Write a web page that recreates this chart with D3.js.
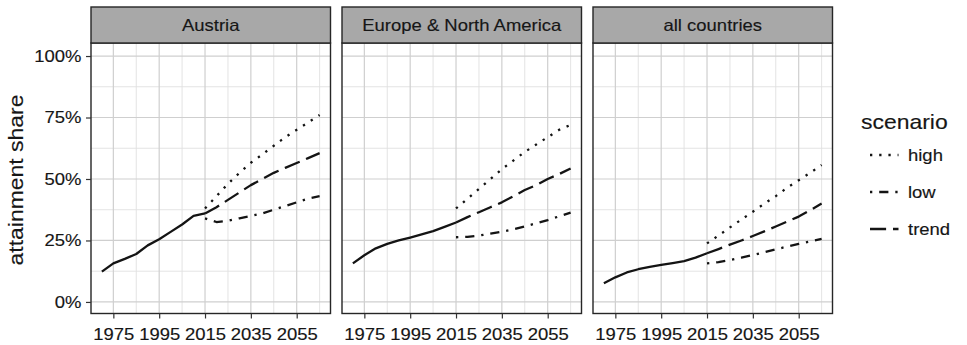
<!DOCTYPE html>
<html>
<head>
<meta charset="utf-8">
<script src="https://cdn.jsdelivr.net/npm/d3@7"></script>
<style>
  body { margin: 0; background: #fff; }
  svg { display: block; }
  text { font-family: "Liberation Sans", Arial, Helvetica, sans-serif; fill: #161616; stroke: #161616; stroke-width: 0.15px; }
</style>
</head>
<body>
<svg id="chart" width="967" height="345"></svg>
<script>
// ---- data -------------------------------------------------------------
const regions = ["Austria", "Europe & North America", "all countries"];
const histYears = [1970, 1975, 1980, 1985, 1990, 1995, 2000, 2005, 2010, 2015];
const projYears = [2015, 2020, 2025, 2030, 2035, 2040, 2045, 2050, 2055, 2060, 2065];
const scenarios = ["high", "low", "trend"];

// attainment share, percent
const histAustria = [12.3, 15.7, 17.5, 19.5, 23.0, 25.5, 28.5, 31.5, 35.0, 36.0];
const highAustria = [38.0, 43.0, 48.0, 52.5, 56.6, 60.0, 63.5, 67.0, 70.0, 73.0, 76.0];
const lowAustria = [34.0, 32.5, 33.0, 34.0, 35.0, 36.0, 37.5, 39.0, 40.5, 42.0, 43.0];
const trendAustria = [36.0, 38.5, 41.5, 44.5, 47.5, 50.0, 52.5, 54.5, 56.5, 58.5, 60.5];

const histEurNA = [15.7, 19.0, 21.8, 23.6, 25.0, 26.2, 27.5, 28.8, 30.5, 32.3];
const highEurNA = [38.0, 42.0, 46.0, 50.0, 54.0, 57.5, 61.0, 64.0, 67.0, 70.0, 72.0];
const lowEurNA = [26.3, 26.5, 27.0, 27.8, 28.6, 29.5, 30.7, 32.0, 33.3, 34.8, 36.3];
const trendEurNA = [32.3, 34.5, 36.5, 38.5, 40.5, 43.0, 45.5, 47.5, 50.0, 52.0, 54.3];

const histAll = [7.6, 10.0, 12.0, 13.3, 14.3, 15.1, 15.8, 16.6, 18.0, 19.8];
const highAll = [23.8, 27.0, 30.3, 33.5, 36.7, 40.0, 43.0, 46.5, 49.5, 52.5, 55.7];
const lowAll = [15.7, 16.2, 17.0, 18.0, 19.1, 20.2, 21.4, 22.5, 23.6, 24.6, 25.6];
const trendAll = [19.8, 21.5, 23.3, 25.0, 26.8, 28.7, 30.7, 32.7, 34.7, 37.3, 40.0];

const xMajor = [1975, 1995, 2015, 2035, 2055];
const xMinor = [1985, 2005, 2025, 2045, 2065];
const yMajor = [0, 25, 50, 75, 100];
const yMinor = [12.5, 37.5, 62.5, 87.5];

const panelData = [
  { hist: histAustria, high: highAustria, low: lowAustria, trend: trendAustria },
  { hist: histEurNA, high: highEurNA, low: lowEurNA, trend: trendEurNA },
  { hist: histAll, high: highAll, low: lowAll, trend: trendAll }
];

// ---- layout -----------------------------------------------------------
const svg = d3.select("#chart");
const panelX = [91, 342, 593];
const panelW = 239.5;
const stripTop = 7, panelTop = 43, panelBottom = 313.5;
const lw = 2.3;
const dash = {
  high: `${lw},${3 * lw}`,
  low: `${lw},${3 * lw},${4 * lw},${3 * lw}`,
  trend: `${7 * lw},${3 * lw}`
};
const fs = 16.5, sx = 1.12, titleFs = 20.5;
const ink = "#141414", frame = "#262626";

const y = d3.scaleLinear().domain([-4.7, 105.3]).range([panelBottom, panelTop]);

function label(g, x, yy, txt, size, anchor, extra = "") {
  return g.append("text")
    .attr("transform", `translate(${x},${yy}) ${extra} scale(${sx},1)`)
    .attr("text-anchor", anchor)
    .style("font-size", size + "px")
    .text(txt);
}

regions.forEach((name, i) => {
  const x0 = panelX[i];
  const x = d3.scaleLinear().domain([1965.25, 2069.75]).range([x0, x0 + panelW]);
  const g = svg.append("g");
  const d = panelData[i];

  g.append("rect").attr("x", x0).attr("y", panelTop)
    .attr("width", panelW).attr("height", panelBottom - panelTop).attr("fill", "#fff");

  // minor grid
  g.selectAll(null).data(xMinor.filter(v => v > 1965.25 && v < 2069.75)).join("line")
    .attr("x1", v => x(v)).attr("x2", v => x(v))
    .attr("y1", panelTop).attr("y2", panelBottom)
    .attr("stroke", "#e0e0e0").attr("stroke-width", 0.9);
  g.selectAll(null).data(yMinor).join("line")
    .attr("x1", x0).attr("x2", x0 + panelW)
    .attr("y1", v => y(v)).attr("y2", v => y(v))
    .attr("stroke", "#e0e0e0").attr("stroke-width", 0.9);
  // major grid
  g.selectAll(null).data(xMajor).join("line")
    .attr("x1", v => x(v)).attr("x2", v => x(v))
    .attr("y1", panelTop).attr("y2", panelBottom)
    .attr("stroke", "#cfcfcf").attr("stroke-width", 1.2);
  g.selectAll(null).data(yMajor).join("line")
    .attr("x1", x0).attr("x2", x0 + panelW)
    .attr("y1", v => y(v)).attr("y2", v => y(v))
    .attr("stroke", "#cfcfcf").attr("stroke-width", 1.2);

  const line = d3.line().x(p => x(p[0])).y(p => y(p[1]));

  // observed history
  g.append("path")
    .attr("d", line(histYears.map((yr, k) => [yr, d.hist[k]])))
    .attr("fill", "none").attr("stroke", ink).attr("stroke-width", lw)
    .attr("stroke-linejoin", "round");

  // projections by scenario
  scenarios.forEach(s => {
    g.append("path")
      .attr("d", line(projYears.map((yr, k) => [yr, d[s][k]])))
      .attr("fill", "none").attr("stroke", ink).attr("stroke-width", lw)
      .attr("stroke-dasharray", dash[s]).attr("stroke-linejoin", "round");
  });

  // panel frame
  g.append("rect").attr("x", x0).attr("y", panelTop)
    .attr("width", panelW).attr("height", panelBottom - panelTop)
    .attr("fill", "none").attr("stroke", frame).attr("stroke-width", 1.4);

  // strip
  g.append("rect").attr("x", x0).attr("y", stripTop)
    .attr("width", panelW).attr("height", panelTop - stripTop)
    .attr("fill", "#a8a8a8").attr("stroke", frame).attr("stroke-width", 1.4);
  label(g, x0 + panelW / 2, 31, name, fs, "middle");

  // x axis
  const ax = g.append("g").attr("transform", `translate(0,${panelBottom})`)
    .call(d3.axisBottom(x).tickValues(xMajor).tickFormat(d3.format("d")).tickSize(5).tickPadding(10));
  ax.select(".domain").remove();
  ax.selectAll(".tick line").attr("stroke", "#333").attr("stroke-width", 1.2);
  ax.selectAll(".tick text").attr("fill", ink).style("font-size", fs + "px")
    .attr("transform", `scale(${sx},1)`).style("font-family", null);

  if (i === 0) {
    const ay = g.append("g").attr("transform", `translate(${x0},0)`)
      .call(d3.axisLeft(y).tickValues(yMajor).tickFormat(v => v + "%").tickSize(5).tickPadding(3.5));
    ay.select(".domain").remove();
    ay.selectAll(".tick line").attr("stroke", "#333").attr("stroke-width", 1.2);
    ay.selectAll(".tick text").attr("fill", ink).style("font-size", fs + "px")
      .attr("transform", `scale(${sx},1)`).style("font-family", null);
  }
});

// y axis title
label(svg, 23, 180, "attainment share", titleFs, "middle", "rotate(-90)");

// legend
const leg = svg.append("g");
label(leg, 861, 129, "scenario", titleFs, "start");
const legRows = [155, 192, 229];
scenarios.forEach((s, k) => {
  leg.append("line")
    .attr("x1", 870).attr("x2", 898.5)
    .attr("y1", legRows[k]).attr("y2", legRows[k])
    .attr("stroke", ink).attr("stroke-width", lw)
    .attr("stroke-dasharray", dash[s]);
  label(leg, 908, legRows[k] + 6, s, fs, "start");
});
</script>
</body>
</html>
